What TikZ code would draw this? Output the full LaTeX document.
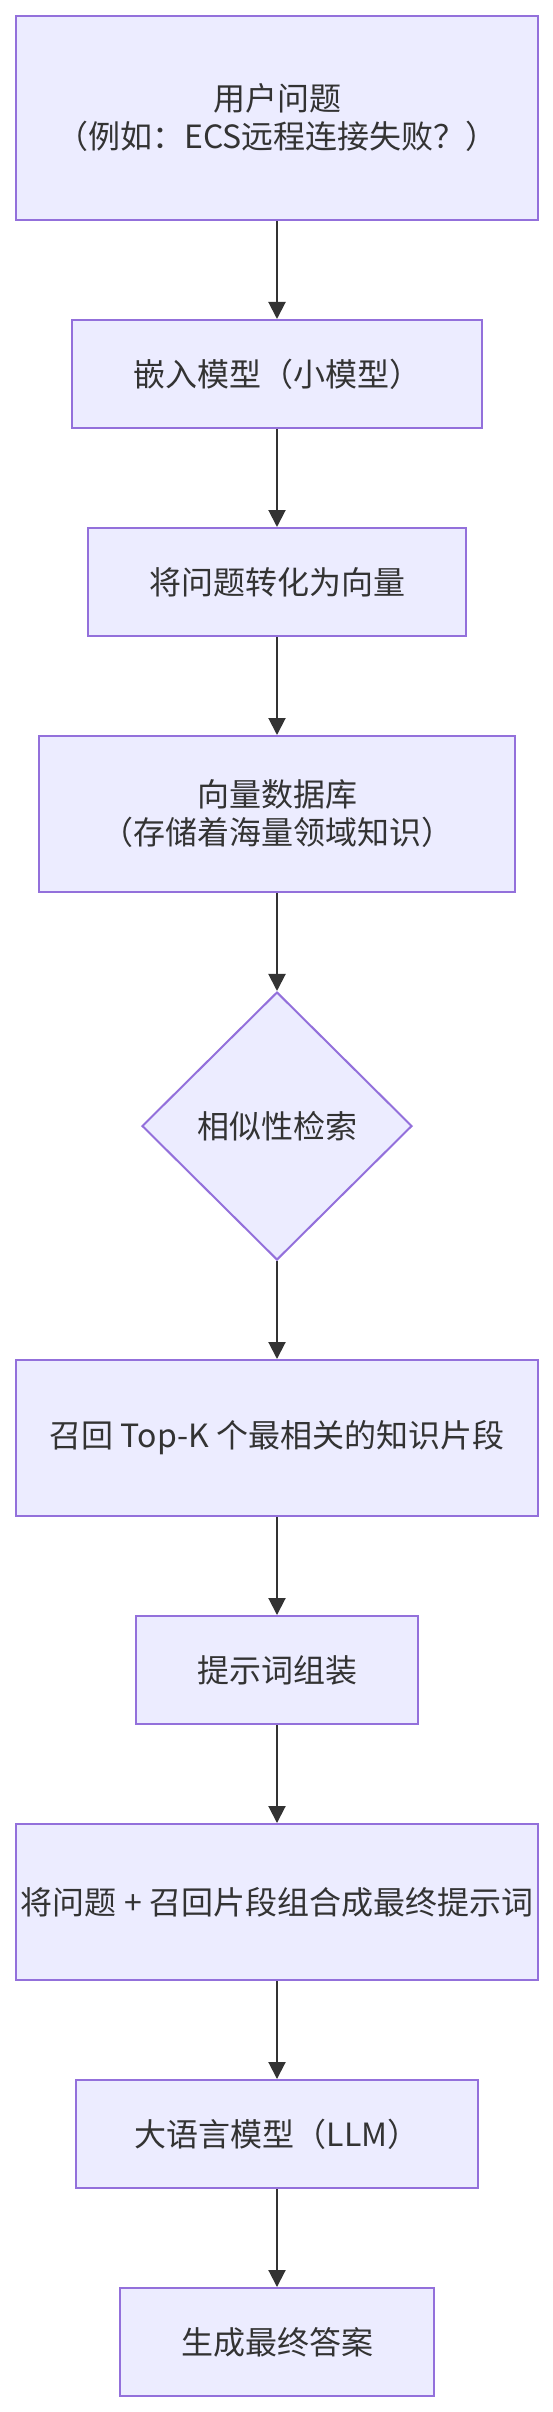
\documentclass[tikz,border=0pt]{standalone}
\usepackage{fontspec}
\setmainfont{Noto Sans CJK SC}
\usetikzlibrary{arrows.meta,shapes.geometric}
\definecolor{nodefill}{HTML}{ECECFF}
\definecolor{nodeline}{HTML}{9370DB}
\definecolor{txt}{HTML}{333333}
\begin{document}
\begin{tikzpicture}[x=1pt,y=-1pt,
  boxnode/.style={draw=nodeline,fill=nodefill,line width=1pt,inner sep=0pt,text=txt,
    font=\fontsize{16}{19}\selectfont,align=center},
  decnode/.style={boxnode,diamond},
  conn/.style={draw=txt,line width=1pt,-{Triangle[length=8.5pt,width=8.5pt]}}]
\useasboundingbox (0,0) rectangle (276,1206);
\node[boxnode,minimum width=261pt,minimum height=102pt] (n1) at (138.5,59) {用户问题\\（例如：ECS远程连接失败？）};
\node[boxnode,minimum width=205pt,minimum height=54pt] (n2) at (138.5,187) {嵌入模型（小模型）};
\node[boxnode,minimum width=189.3pt,minimum height=54pt] (n3) at (138.5,291) {将问题转化为向量};
\node[boxnode,minimum width=237.6pt,minimum height=78pt] (n4) at (138.5,407) {向量数据库\\（存储着海量领域知识）};
\node[decnode,minimum width=135pt,minimum height=134pt] (d) at (138.5,563) {相似性检索};
\node[boxnode,minimum width=261pt,minimum height=78pt] (n5) at (138.5,719) {召回 Top-K 个最相关的知识片段};
\node[boxnode,minimum width=141pt,minimum height=54pt] (n6) at (138.5,835) {提示词组装};
\node[boxnode,minimum width=261pt,minimum height=78pt] (n7) at (138.5,951) {将问题 + 召回片段组合成最终提示词};
\node[boxnode,minimum width=201pt,minimum height=54pt] (n8) at (138.5,1067) {大语言模型（LLM）};
\node[boxnode,minimum width=157pt,minimum height=54pt] (n9) at (138.5,1171) {生成最终答案};
\draw[conn] (n1) -- (n2);
\draw[conn] (n2) -- (n3);
\draw[conn] (n3) -- (n4);
\draw[conn] (n4) -- (d);
\draw[conn] (d) -- (n5);
\draw[conn] (n5) -- (n6);
\draw[conn] (n6) -- (n7);
\draw[conn] (n7) -- (n8);
\draw[conn] (n8) -- (n9);
\end{tikzpicture}
\end{document}
